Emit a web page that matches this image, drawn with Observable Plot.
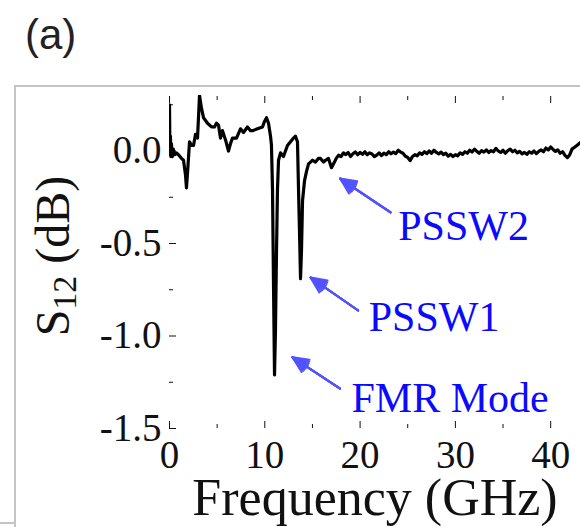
<!DOCTYPE html>
<html>
<head>
<meta charset="utf-8">
<script src="https://cdn.jsdelivr.net/npm/d3@7"></script>
<script src="https://cdn.jsdelivr.net/npm/@observablehq/plot@0.6"></script>
<style>
  html, body { margin: 0; padding: 0; background: #fff; overflow: hidden; }
  #wrap { position: relative; width: 580px; height: 527px; }
  #chart { position: absolute; left: 0; top: 0; }
  .panel { position: absolute; left: 25px; top: 14px; font-family: "Liberation Sans", Arial, sans-serif; font-size: 42px; color: #222; line-height: 1; }
  .fr { position: absolute; background: #c4c4c4; }
</style>
</head>
<body>
<div id="wrap">
  <div id="chart"></div>
  <div class="panel">(a)</div>
  <div class="fr" style="left:14px; top:85px; width:566px; height:2px;"></div>
  <div class="fr" style="left:14px; top:85px; width:2px; height:442px;"></div>
  <div class="fr" style="left:0px; top:522px; width:16px; height:2px;"></div>
</div>
<script>
// Frequency (GHz)
const freq = [
  0, 0.05, 0.1, 0.15, 0.2, 0.3, 0.4, 0.55, 0.73, 0.94, 1.1, 1.26, 1.47, 1.68, 1.78, 1.94, 2.10, 2.31, 2.52, 2.73, 2.94,
  3.15, 3.36, 3.57, 3.99, 4.41, 4.72, 4.93, 5.14, 5.35, 5.56, 5.88, 6.19, 6.40, 6.61, 7.03, 7.45, 7.76, 8.18, 8.50,
  8.71, 9.23, 9.76, 9.97, 10.18, 10.39, 10.60, 10.70, 10.81, 10.91, 11.02, 11.12, 11.23, 11.33, 11.44, 11.65, 11.96,
  12.17, 12.38, 12.70, 13.01, 13.22, 13.43, 13.54, 13.64, 13.75, 13.85, 13.96, 14.17, 14.38, 14.59, 14.80, 15.01,
  15.32, 15.63, 15.84, 16.16, 16.37, 16.68, 17.00, 17.31,
  17.5, 17.75, 18, 18.25, 18.5, 18.75, 19, 19.25, 19.5, 19.75, 20, 20.25, 20.5, 20.75, 21, 21.25, 21.5, 21.75,
  22, 22.25, 22.5, 22.75, 23, 23.25, 23.5, 23.75, 24, 24.25, 24.5, 24.75, 25, 25.25, 25.5, 25.75, 26, 26.25,
  26.5, 26.75, 27, 27.25, 27.5, 27.75, 28, 28.25, 28.5, 28.75, 29, 29.25, 29.5, 29.75, 30, 30.25, 30.5, 30.75,
  31, 31.25, 31.5, 31.75, 32, 32.25, 32.5, 32.75, 33, 33.25, 33.5, 33.75, 34, 34.25, 34.5, 34.75, 35, 35.25,
  35.5, 35.75, 36, 36.25, 36.5, 36.75, 37, 37.25, 37.5, 37.75, 38, 38.25, 38.5, 38.75, 39, 39.25, 39.5, 39.75,
  40, 40.25, 40.5, 40.75, 41, 41.25, 41.5, 41.75, 42, 42.25, 42.5, 42.75, 43, 43.13
];
// S12 (dB)
const s12 = [
  0.25, -0.02, 0.08, -0.03, 0.04, -0.03, 0.01, -0.02, -0.01, -0.02, -0.03, -0.04, -0.05, -0.13, -0.20, -0.08, 0.05, 0.03, 0.03, 0.09, 0.07,
  0.30, 0.23, 0.18, 0.15, 0.13, 0.13, 0.15, 0.14, 0.07, 0.11, 0.06, 0.00, 0.04, 0.07, 0.07, 0.12, 0.10, 0.13, 0.11,
  0.11, 0.12, 0.13, 0.16, 0.18, 0.15, 0.08, 0.03, -0.21, -0.70, -1.21, -0.97, -0.54, -0.21, -0.05, -0.01, -0.03,
  0.00, 0.03, 0.05, 0.07, 0.08, 0.05, -0.21, -0.43, -0.69, -0.54, -0.27, -0.16, -0.11, -0.07, -0.06, -0.05,
  -0.06, -0.04, -0.04, -0.06, -0.05, -0.04, -0.09, -0.06,
  -0.040, -0.022, -0.030, -0.010, -0.020, -0.008, -0.030, -0.015, -0.005, -0.020, -0.008, -0.018, -0.004, -0.020, -0.010, -0.016, -0.030, -0.022,
  -0.010, -0.025, -0.012, -0.020, -0.004, -0.015, -0.006, -0.014, 0.004, -0.006, -0.012, -0.028, -0.035, -0.052, -0.030, -0.020, -0.026, -0.010,
  -0.018, -0.004, -0.014, 0.000, -0.012, 0.004, -0.008, -0.016, -0.006, -0.020, -0.012, -0.028, -0.018, -0.030, -0.020, -0.026, -0.010, -0.018,
  -0.004, -0.012, 0.004, -0.006, 0.010, -0.002, -0.012, 0.002, -0.006, 0.006, -0.008, 0.002, -0.004, 0.014, 0.000, -0.008, 0.004, -0.012,
  0.002, 0.010, -0.004, 0.004, -0.010, -0.002, -0.016, -0.008, -0.018, -0.004, -0.012, 0.000, -0.014, -0.002, 0.006, -0.004, 0.016, 0.006,
  0.022, 0.008, -0.002, 0.006, -0.012, -0.004, -0.024, -0.036, -0.020, 0.012, 0.020, 0.030, 0.040, 0.046
];

const xMajor = [0, 10, 20, 30, 40];
const xMinor = [5, 15, 25, 35];
const yMajor = [0, -0.5, -1.0, -1.5];
const yMinor = [0.25, -0.25, -0.75, -1.25];

const annLabels = ["FMR Mode", "PSSW1", "PSSW2"];
const annTextX = [19.1, 20.9, 24.0];
const annTextY = [-1.336, -0.898, -0.411];
const arrowFromX = [17.9, 19.8, 23.2];
const arrowFromY = [-1.284, -0.862, -0.332];
const arrowToX = [12.9, 14.8, 17.9];
const arrowToY = [-1.115, -0.684, -0.149];

const data = freq.map((f, i) => ({f, s: s12[i]}));
const ann = annLabels.map((t, i) => ({
  t, tx: annTextX[i], ty: annTextY[i],
  x1: arrowFromX[i], y1: arrowFromY[i], x2: arrowToX[i], y2: arrowToY[i]
}));

const blank = () => "";
const arrowColor = "#5252ff";
const headAngles = [50, 38, 26, 14, 4];

const plot = Plot.plot({
  width: 580,
  height: 527,
  marginTop: 95,
  marginBottom: 99,
  marginLeft: 169,
  marginRight: 0,
  style: {fontFamily: "'Liberation Serif', 'Times New Roman', serif", fontSize: "39px", background: "transparent", color: "#111"},
  x: {domain: [0, 43.13]},
  y: {domain: [-1.5, 0.3]},
  marks: [
    // bottom axis
    Plot.axisX({anchor: "bottom", ticks: xMajor, tickSize: 0, tickPadding: 12, tickFormat: d => String(d), line: true, label: null}),
    Plot.axisX({anchor: "bottom", ticks: xMajor, tickSize: -7, tickFormat: blank, label: null}),
    Plot.axisX({anchor: "bottom", ticks: xMinor, tickSize: -4, tickFormat: blank, label: null}),
    // top axis
    Plot.axisX({anchor: "top", ticks: xMajor, tickSize: -7, tickFormat: blank, line: true, label: null}),
    Plot.axisX({anchor: "top", ticks: xMinor, tickSize: -4, tickFormat: blank, label: null}),
    // left axis
    Plot.axisY({anchor: "left", ticks: yMajor, tickSize: 0, tickPadding: 8, tickFormat: d => d.toFixed(1), line: true, label: null}),
    Plot.axisY({anchor: "left", ticks: yMajor, tickSize: -7, tickFormat: blank, label: null}),
    Plot.axisY({anchor: "left", ticks: yMinor, tickSize: -4, tickFormat: blank, label: null}),
    // data
    Plot.line(data, {x: "f", y: "s", stroke: "#000", strokeWidth: 3.2, strokeLinejoin: "round", clip: true}),
    // annotation arrows
    Plot.arrow(ann, {x1: "x1", y1: "y1", x2: "x2", y2: "y2", stroke: arrowColor, strokeWidth: 1.5, headLength: 0}),
    ...headAngles.map(a => Plot.arrow(ann, {x1: "x1", y1: "y1", x2: "x2", y2: "y2", stroke: arrowColor, strokeWidth: 2, headLength: 13, headAngle: a})),
    Plot.text(ann, {x: "tx", y: "ty", text: "t", textAnchor: "start", fill: "#0a0aff", fontSize: 42}),
    // axis titles
    Plot.text(["Frequency (GHz)"], {text: d => d, frameAnchor: "bottom", dy: 86, lineAnchor: "bottom", fontSize: 52, fill: "#111"}),
    Plot.text(["S12 (dB)"], {text: d => d, frameAnchor: "left", dx: -101, dy: -6, rotate: -90, textAnchor: "middle", lineAnchor: "bottom", fontSize: 48, fill: "#111"})
  ]
});

// subscript for S12
d3.select(plot).selectAll("text").each(function() {
  if (this.textContent === "S12 (dB)") {
    const t = d3.select(this);
    t.text("");
    t.append("tspan").text("S");
    t.append("tspan").attr("font-size", "34px").attr("dy", "7").text("12");
    t.append("tspan").attr("dy", "-7").text(" (dB)");
  }
});

document.getElementById("chart").appendChild(plot);
</script>
</body>
</html>
